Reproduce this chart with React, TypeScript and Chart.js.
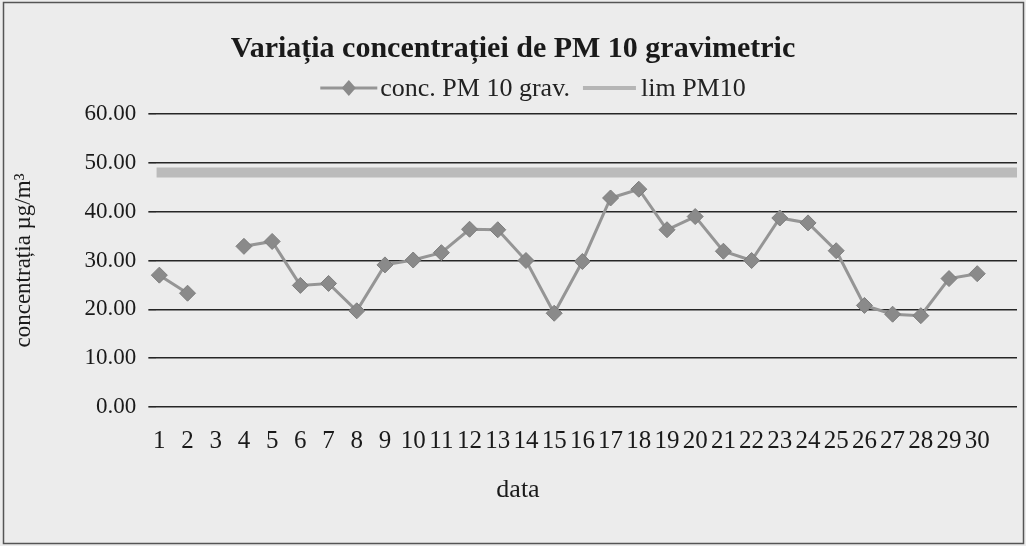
import React, { useEffect, useRef } from "react";
import { Chart, registerables } from "chart.js";

Chart.register(...registerables);

// ---- data ----
const days = [1, 2, 3, 4, 5, 6, 7, 8, 9, 10, 11, 12, 13, 14, 15, 16, 17, 18, 19, 20, 21, 22, 23, 24, 25, 26, 27, 28, 29, 30];
const dayLabels = ["1", "2", "3", "4", "5", "6", "7", "8", "9", "10", "11", "12", "13", "14", "15", "16", "17", "18", "19", "20", "21", "22", "23", "24", "25", "26", "27", "28", "29", "30"];
const pm10 = [27.0, 23.3, null, 32.9, 33.9, 24.9, 25.3, 19.7, 29.1, 30.1, 31.6, 36.4, 36.3, 30.0, 19.2, 29.8, 42.8, 44.6, 36.3, 39.0, 31.9, 30.0, 38.7, 37.7, 32.0, 20.8, 19.0, 18.7, 26.3, 27.3];
const limitValue = 48;
const yTickValues = [0, 10, 20, 30, 40, 50, 60];

const TITLE = "Variația concentrației de PM 10 gravimetric";
const SERIES_NAME = "conc. PM 10 grav.";
const LIMIT_NAME = "lim PM10";
const Y_TITLE = "concentrația µg/m³";
const X_TITLE = "data";

const X_MIN = 0.894;
const X_MAX = 31.41;

const FONT = "'Liberation Serif', 'DejaVu Serif', serif";

const SERIES_LINE = "#959595";
const SERIES_POINT = "#8a8a8a";
const LIMIT_COLOR = "rgba(175,175,175,0.8)";

const bgPlugin = {
  id: "bg",
  beforeDraw(chart: any) {
    const ctx = chart.ctx;
    ctx.save();
    ctx.fillStyle = "#ececec";
    ctx.fillRect(0, 0, chart.width, chart.height);
    ctx.strokeStyle = "#555";
    ctx.lineWidth = 1.5;
    ctx.strokeRect(3.5, 2.5, chart.width - 6, chart.height - 5);
    ctx.restore();
  },
};

// legend and x-axis title drawn by hand (Excel-like placement)
const legendPlugin = {
  id: "xlLegend",
  afterDraw(chart: any) {
    const ctx = chart.ctx;
    ctx.save();
    ctx.font = `26px ${FONT}`;
    ctx.textBaseline = "middle";
    ctx.fillStyle = "#222";
    const sym1 = 57, sym2 = 53, g1 = 3, g2 = 13, g3 = 5;
    const t1 = ctx.measureText(SERIES_NAME).width;
    const t2 = ctx.measureText(LIMIT_NAME).width;
    const total = sym1 + g1 + t1 + g2 + sym2 + g3 + t2;
    const cx = 533;
    const y = 88;
    let x = cx - total / 2;
    ctx.strokeStyle = SERIES_LINE;
    ctx.lineWidth = 3;
    ctx.beginPath();
    ctx.moveTo(x, y);
    ctx.lineTo(x + sym1, y);
    ctx.stroke();
    const dx = x + sym1 / 2;
    ctx.fillStyle = SERIES_POINT;
    ctx.beginPath();
    ctx.moveTo(dx, y - 8);
    ctx.lineTo(dx + 7, y);
    ctx.lineTo(dx, y + 8);
    ctx.lineTo(dx - 7, y);
    ctx.closePath();
    ctx.fill();
    x += sym1 + g1;
    ctx.fillStyle = "#222";
    ctx.fillText(SERIES_NAME, x, y + 1);
    x += t1 + g2;
    ctx.strokeStyle = "#b5b5b5";
    ctx.lineWidth = 4;
    ctx.beginPath();
    ctx.moveTo(x, y);
    ctx.lineTo(x + sym2, y);
    ctx.stroke();
    x += sym2 + g3;
    ctx.fillText(LIMIT_NAME, x, y + 1);

    // x axis title
    ctx.font = `26px ${FONT}`;
    ctx.fillStyle = "#1a1a1a";
    ctx.textAlign = "center";
    ctx.fillText(X_TITLE, 518, 490);
    ctx.restore();
  },
};

export default function App() {
  const ref = useRef<HTMLCanvasElement>(null);

  useEffect(() => {
    if (!ref.current) return;

    const chart = new Chart(ref.current, {
      type: "line",
      data: {
        datasets: [
          {
            label: SERIES_NAME,
            data: pm10.map((v, i) => ({ x: days[i], y: v })),
            borderColor: SERIES_LINE,
            backgroundColor: SERIES_POINT,
            borderWidth: 3,
            pointStyle: "rectRot",
            pointRadius: 8,
            pointBorderWidth: 1,
            pointBorderColor: "#7e7e7e",
            pointBackgroundColor: SERIES_POINT,
            spanGaps: false,
            tension: 0,
            clip: false,
            order: 1,
          },
          {
            label: LIMIT_NAME,
            data: [
              { x: X_MIN, y: limitValue },
              { x: X_MAX, y: limitValue },
            ],
            borderColor: LIMIT_COLOR,
            backgroundColor: LIMIT_COLOR,
            borderWidth: 10,
            pointRadius: 0,
            order: 2,
          },
        ],
      },
      options: {
        animation: false,
        responsive: false,
        maintainAspectRatio: false,
        layout: { padding: { left: 8, right: 8, top: 12, bottom: 71 } },
        plugins: {
          title: {
            display: true,
            text: TITLE,
            color: "#1a1a1a",
            font: { family: FONT, size: 30, weight: "bold" },
            padding: { top: 19, bottom: 47 },
          },
          legend: { display: false },
          tooltip: { enabled: false },
        },
        scales: {
          x: {
            type: "linear",
            min: X_MIN,
            max: X_MAX,
            grid: { display: false, drawTicks: false },
            border: { display: false },
            afterBuildTicks: (scale: any) => {
              scale.ticks = days.map((d) => ({ value: d }));
            },
            ticks: {
              autoSkip: false,
              maxRotation: 0,
              minRotation: 0,
              padding: 19,
              color: "#1a1a1a",
              font: { family: FONT, size: 25 },
              callback: (v: any) => {
                const i = days.indexOf(Number(v));
                return i >= 0 ? dayLabels[i] : "";
              },
            },
            title: { display: false, text: X_TITLE },
          },
          y: {
            min: 0,
            max: 60,
            afterBuildTicks: (scale: any) => {
              scale.ticks = yTickValues.map((v) => ({ value: v }));
            },
            grid: { color: "#262626", lineWidth: 1.6, tickLength: 8, drawTicks: true },
            border: { display: false },
            ticks: {
              padding: 12,
              color: "#1a1a1a",
              font: { family: FONT, size: 23 },
              callback: (v: any) => Number(v).toFixed(2),
            },
            title: {
              display: true,
              text: Y_TITLE,
              color: "#1a1a1a",
              font: { family: FONT, size: 23 },
              padding: { top: 2, bottom: 35 },
            },
          },
        },
      },
      plugins: [bgPlugin, legendPlugin],
    } as any);

    return () => chart.destroy();
  }, []);

  return (
    <div style={{ position: "fixed", left: 0, top: 0, width: 1026, height: 546 }}>
      <canvas ref={ref} width={1026} height={546} style={{ display: "block" }} />
    </div>
  );
}
